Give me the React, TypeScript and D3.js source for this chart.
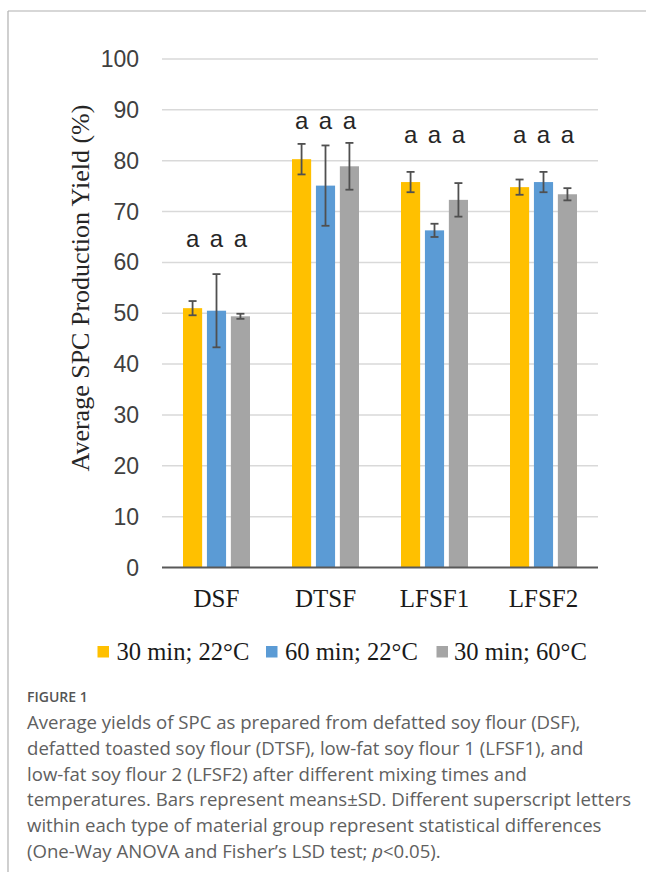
import React from "react";
import * as d3 from "d3";

// Soy flour types on the x axis
const categories = ["DSF", "DTSF", "LFSF1", "LFSF2"];
// Mixing conditions (legend order)
const seriesNames = ["30 min; 22°C", "60 min; 22°C", "30 min; 60°C"];
const seriesColors = ["#FFC000", "#5B9BD5", "#A5A5A5"];

// Mean yield (%) per category, one array per condition
const yield30m22 = [51.0, 80.3, 75.8, 74.8];
const yield60m22 = [50.5, 75.1, 66.3, 75.8];
const yield30m60 = [49.4, 78.9, 72.3, 73.4];
// Standard deviations
const sd30m22 = [1.4, 3.0, 2.0, 1.5];
const sd60m22 = [7.2, 7.9, 1.3, 2.0];
const sd30m60 = [0.5, 4.6, 3.3, 1.2];
// Significance letters and the height (in %) at which each group's letters sit
const letters = [
  ["a", "a", "a"],
  ["a", "a", "a"],
  ["a", "a", "a"],
  ["a", "a", "a"],
];
const letterLevels = [63.1, 86.3, 83.5, 83.5];

const yTicks = [0, 10, 20, 30, 40, 50, 60, 70, 80, 90, 100];

const captionLines = [
  "Average yields of SPC as prepared from defatted soy flour (DSF),",
  "defatted toasted soy flour (DTSF), low-fat soy flour 1 (LFSF1), and",
  "low-fat soy flour 2 (LFSF2) after different mixing times and",
  "temperatures. Bars represent means±SD. Different superscript letters",
  "within each type of material group represent statistical differences",
];

const W = 646;
const H = 872;

export default function App() {
  const means = [yield30m22, yield60m22, yield30m60];
  const sds = [sd30m22, sd60m22, sd30m60];

  const x0 = d3.scaleBand<string>().domain(categories).range([162, 598]).padding(0);
  const groupPad = (x0.bandwidth() - 67) / 2;
  const x1 = d3
    .scaleBand<string>()
    .domain(seriesNames)
    .range([groupPad, groupPad + 67])
    .paddingInner(0.2);
  const y = d3.scaleLinear().domain([0, 100]).range([567.5, 59]);

  const capW = 8;
  const sans = "'Liberation Sans', Arial, sans-serif";
  const serif = "'Liberation Serif', 'Times New Roman', serif";
  const capFont = "'Open Sans', 'Noto Sans', sans-serif";

  // Legend layout
  const legendItems = [
    { sq: 97.5, tx: 116.5 },
    { sq: 266, tx: 285 },
    { sq: 436.5, tx: 454 },
  ];

  return (
    <div style={{ position: "absolute", left: 0, top: 0 }}>
      <svg width={W} height={H} style={{ display: "block", background: "#fff" }}>
        {/* figure frame */}
        <line x1={8} y1={11} x2={W} y2={11} stroke="#b0b0b0" strokeWidth={1.2} />
        <line x1={8} y1={11} x2={8} y2={H} stroke="#b0b0b0" strokeWidth={1.2} />

        {/* gridlines */}
        {yTicks.map((t) =>
          t === 0 ? null : (
            <line key={t} x1={162} x2={598} y1={y(t)} y2={y(t)} stroke="#D9D9D9" strokeWidth={1.5} />
          )
        )}

        {/* y tick labels */}
        {yTicks.map((t) => (
          <text
            key={"yl" + t}
            x={139}
            y={y(t)}
            dy="0.35em"
            textAnchor="end"
            fontFamily={sans}
            fontSize={23}
            fill="#404040"
          >
            {t}
          </text>
        ))}

        {/* y axis title */}
        <text
          transform={`translate(89, 288) rotate(-90)`}
          textAnchor="middle"
          fontFamily={serif}
          fontSize={26}
          fill="#262626"
        >
          Average SPC Production Yield (%)
        </text>

        {/* bars */}
        {categories.map((c, ci) => (
          <g key={c} transform={`translate(${x0(c)},0)`}>
            {seriesNames.map((s, si) => {
              const v = means[si][ci];
              const bx = x1(s)!;
              return (
                <rect
                  key={s}
                  x={bx}
                  y={y(v)}
                  width={x1.bandwidth()}
                  height={y(0) - y(v)}
                  fill={seriesColors[si]}
                />
              );
            })}
          </g>
        ))}

        {/* error bars */}
        {categories.map((c, ci) => (
          <g key={"e" + c} transform={`translate(${x0(c)},0)`}>
            {seriesNames.map((s, si) => {
              const v = means[si][ci];
              const e = sds[si][ci];
              const cx = x1(s)! + x1.bandwidth() / 2;
              return (
                <g key={s} stroke="#505050" strokeWidth={1.8}>
                  <line x1={cx} x2={cx} y1={y(v + e)} y2={y(v - e)} />
                  <line x1={cx - capW / 2} x2={cx + capW / 2} y1={y(v + e)} y2={y(v + e)} />
                  <line x1={cx - capW / 2} x2={cx + capW / 2} y1={y(v - e)} y2={y(v - e)} />
                </g>
              );
            })}
          </g>
        ))}

        {/* significance letters */}
        {categories.map((c, ci) => (
          <g key={"l" + c} transform={`translate(${x0(c)},0)`}>
            {seriesNames.map((s, si) => (
              <text
                key={s}
                x={x1(s)! + x1.bandwidth() / 2}
                y={y(letterLevels[ci])}
                textAnchor="middle"
                fontFamily={sans}
                fontSize={24}
                fill="#262626"
              >
                {letters[ci][si]}
              </text>
            ))}
          </g>
        ))}

        {/* x axis line */}
        <line x1={162} x2={598} y1={y(0)} y2={y(0)} stroke="#595959" strokeWidth={2} />

        {/* category labels */}
        {categories.map((c) => (
          <text
            key={"c" + c}
            x={x0(c)! + x0.bandwidth() / 2}
            y={607}
            textAnchor="middle"
            fontFamily={serif}
            fontSize={25}
            fill="#1a1a1a"
          >
            {c}
          </text>
        ))}

        {/* legend */}
        {seriesNames.map((s, si) => (
          <g key={"lg" + s}>
            <rect x={legendItems[si].sq} y={646} width={11.5} height={11.5} fill={seriesColors[si]} />
            <text x={legendItems[si].tx} y={659.5} fontFamily={serif} fontSize={24.6} fill="#1a1a1a">
              {s}
            </text>
          </g>
        ))}

        {/* caption */}
        <text x={27} y={702} fontFamily={capFont} fontSize={14} fontWeight={600} fill="#555">
          FIGURE 1
        </text>
        {captionLines.map((l, i) => (
          <text key={"cap" + i} x={27} y={729 + i * 25.8} fontFamily={capFont} fontSize={18.6} fill="#606060">
            {l}
          </text>
        ))}
        <text x={27} y={729 + 5 * 25.8} fontFamily={capFont} fontSize={18.6} fill="#606060">
          {"(One-Way ANOVA and Fisher’s LSD test; "}
          <tspan fontStyle="italic">p</tspan>
          {"<0.05)."}
        </text>
      </svg>
    </div>
  );
}
